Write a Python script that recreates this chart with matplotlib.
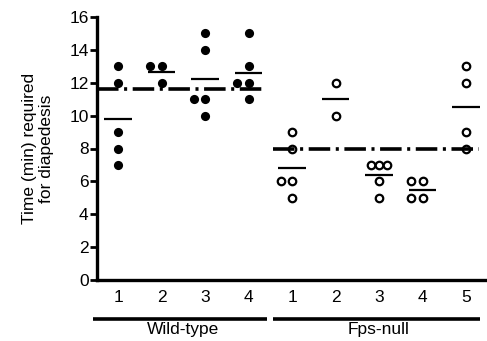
import matplotlib
matplotlib.use("Agg")
import matplotlib.pyplot as plt
import matplotlib.transforms as mtransforms
import numpy as np
from collections import Counter

plt.rcParams['font.family'] = ['Liberation Sans', 'DejaVu Sans']
plt.rcParams['lines.scale_dashes'] = False

# ---- data ----
wt_labels = ["1", "2", "3", "4"]
fps_labels = ["1", "2", "3", "4", "5"]
wt_values = [
    [13, 12, 9, 8, 7],
    [13, 13, 12],
    [15, 14, 11, 11, 10],
    [15, 13, 12, 12, 11],
]
fps_values = [
    [9, 8, 6, 6, 5],
    [12, 10],
    [7, 7, 7, 6, 5],
    [6, 6, 5, 5],
    [13, 12, 9, 8],
]
wt_overall = 11.6
fps_overall = 8.0
group_names = ["Wild-type", "Fps-null"]
yticks = [0, 2, 4, 6, 8, 10, 12, 14, 16]

fig = plt.figure(figsize=(4.87, 3.41), dpi=100)
ax = fig.add_axes([97/487, 1 - 280/341, 390/487, 263/341])

def offsets(n):
    if n == 1:
        return [0.0]
    if n == 2:
        return [-0.26, 0.0]
    return list(np.linspace(-0.18, 0.18, n))

def draw_group(vals, x0, filled):
    c = Counter(vals)
    for v, n in c.items():
        for off in offsets(n):
            if filled:
                ax.plot(x0 + off, v, 'o', ms=6.6, mfc='black', mec='black', mew=0, clip_on=False, zorder=3)
            else:
                ax.plot(x0 + off, v, 'o', ms=5.4, mfc='white', mec='black', mew=1.6, clip_on=False, zorder=3)
    m = np.mean(vals)
    ax.plot([x0 - 0.32, x0 + 0.32], [m, m], color='black', lw=1.6, solid_capstyle='butt', zorder=2)

positions = np.arange(1, len(wt_values) + len(fps_values) + 1)
wt_pos = positions[:len(wt_values)]
fps_pos = positions[len(wt_values):]

for vals, x in zip(wt_values, wt_pos):
    draw_group(vals, x, True)
for vals, x in zip(fps_values, fps_pos):
    draw_group(vals, x, False)

dash = (15.5, 4.0, 2.2, 4.0)
ax.plot([0.525, 4.4], [wt_overall, wt_overall], color='black', lw=2.6,
        dashes=dash, dash_capstyle='butt', zorder=4)
ax.plot([4.57, 9.3], [fps_overall, fps_overall], color='black', lw=2.6,
        dashes=dash, dash_capstyle='butt', zorder=4)

ax.set_xlim(0.517, 0.517 + 390/43.5)
ax.set_ylim(0, 16)
ax.set_yticks(yticks)
ax.set_xticks(positions)
ax.set_xticklabels(wt_labels + fps_labels)
ax.tick_params(axis='y', direction='out', length=5, width=2.0, labelsize=12.5, pad=1)
ax.tick_params(axis='x', length=0, labelsize=12.5, pad=7)
for s in ['top', 'right']:
    ax.spines[s].set_visible(False)
for s in ['left', 'bottom']:
    ax.spines[s].set_linewidth(2.4)
ax.spines['left'].set_bounds(0, 16)

ax.set_ylabel("Time (min) required\nfor diapedesis", fontsize=12.5, linespacing=1.15)
ax.yaxis.set_label_coords(-0.11, 0.5)

trans = mtransforms.blended_transform_factory(ax.transData, ax.transAxes)
ax.plot([0.425, 4.425], [-0.148, -0.148], color='black', lw=2.6, transform=trans,
        clip_on=False, solid_capstyle='butt')
ax.plot([4.56, 9.32], [-0.148, -0.148], color='black', lw=2.6, transform=trans,
        clip_on=False, solid_capstyle='butt')
ax.text(np.mean(wt_pos), -0.19, group_names[0], transform=trans, ha='center', va='center', fontsize=12.5)
ax.text(np.mean(fps_pos), -0.19, group_names[1], transform=trans, ha='center', va='center', fontsize=12.5)

fig.savefig("out.png", dpi=100)
